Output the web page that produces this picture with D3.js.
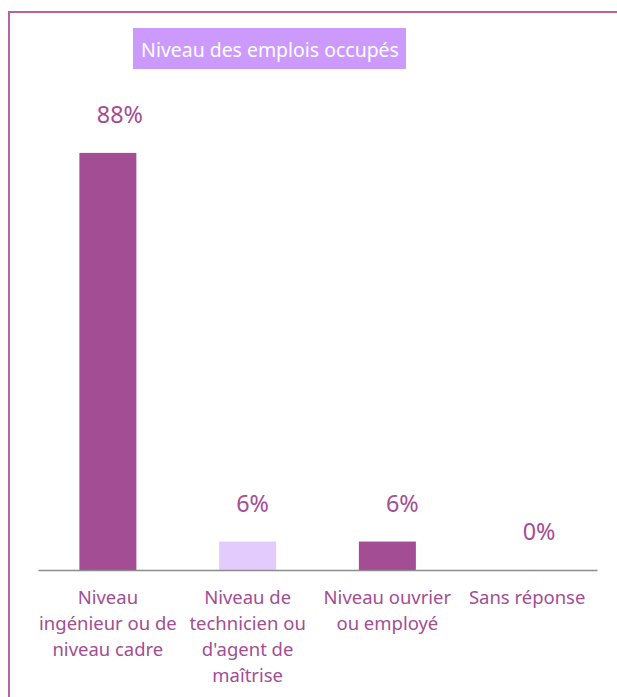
<!DOCTYPE html>
<html><head><meta charset="utf-8">
<script src="https://cdn.jsdelivr.net/npm/d3@7"></script>
<style>html,body{margin:0;padding:0;background:#fff;overflow:hidden}</style>
</head><body>
<script>
const categories = [
  ["Niveau", "ingénieur ou de", "niveau cadre"],
  ["Niveau de", "technicien ou", "d'agent de", "maîtrise"],
  ["Niveau ouvrier", "ou employé"],
  ["Sans réponse"]
];
const values = [88, 6, 6, 0];
const labels = ["88%", "6%", "6%", "0%"];
const barColors = ["#a24d94", "#e4cbfd", "#a24d94", "#a24d94"];
const labelOffsets = [12, 5, 15, 12];
const title = "Niveau des emplois occupés";

const W = 617, H = 697;
const FONT = "'Noto Sans', sans-serif";
const purple = "#a24d94";
const svg = d3.select("body").append("svg").attr("width", W).attr("height", H);

// outer frame
svg.append("rect").attr("x", 9).attr("y", 12).attr("width", 700).attr("height", 800)
  .attr("fill", "none").attr("stroke", "#b463aa").attr("stroke-width", 2);

// title
const tbg = svg.append("rect").attr("fill", "#cc9afc");
const t = svg.append("text").text(title).attr("font-family", FONT).attr("font-size", 20)
  .attr("fill", "#fff").attr("text-anchor", "middle").attr("x", 270).attr("y", 57);
const targetW = 258;
const scale = targetW / t.node().getComputedTextLength();
t.attr("font-size", 20 * scale);
tbg.attr("x", 133).attr("y", 28).attr("width", 273).attr("height", 41);

const x = d3.scaleBand().domain(d3.range(values.length)).range([38, 597]).paddingInner(0).paddingOuter(0);
const y = d3.scaleLinear().domain([0, 100]).range([570, 96]);
const bw = 57;

svg.selectAll("rect.bar").data(values).enter().append("rect").attr("class", "bar")
  .attr("x", (d, i) => x(i) + x.bandwidth() / 2 - bw / 2)
  .attr("width", bw)
  .attr("y", d => y(d))
  .attr("height", d => y(0) - y(d))
  .attr("fill", (d, i) => barColors[i]);

// axis line
const axis = d3.axisBottom(x).tickSize(0).tickFormat("");
const ag = svg.append("g").attr("transform", `translate(0,${y(0)})`).call(axis);
ag.select(".domain").attr("stroke", "#8c8c8c").attr("stroke-width", 1.5);

// value labels
svg.selectAll("text.val").data(values).enter().append("text").attr("class", "val")
  .attr("x", (d, i) => x(i) + x.bandwidth() / 2 + labelOffsets[i])
  .attr("y", d => y(d) - 30)
  .attr("text-anchor", "middle").attr("font-family", FONT)
  .attr("font-size", 24 * scale).attr("fill", purple)
  .text((d, i) => labels[i]);

// category labels
categories.forEach((lines, i) => {
  const tx = svg.append("text").attr("text-anchor", "middle").attr("font-family", FONT)
    .attr("font-size", 19 * scale).attr("fill", purple);
  lines.forEach((ln, j) => {
    tx.append("tspan").attr("x", x(i) + x.bandwidth() / 2)
      .attr("y", 604 + j * 26).text(ln);
  });
});
</script>
</body></html>
